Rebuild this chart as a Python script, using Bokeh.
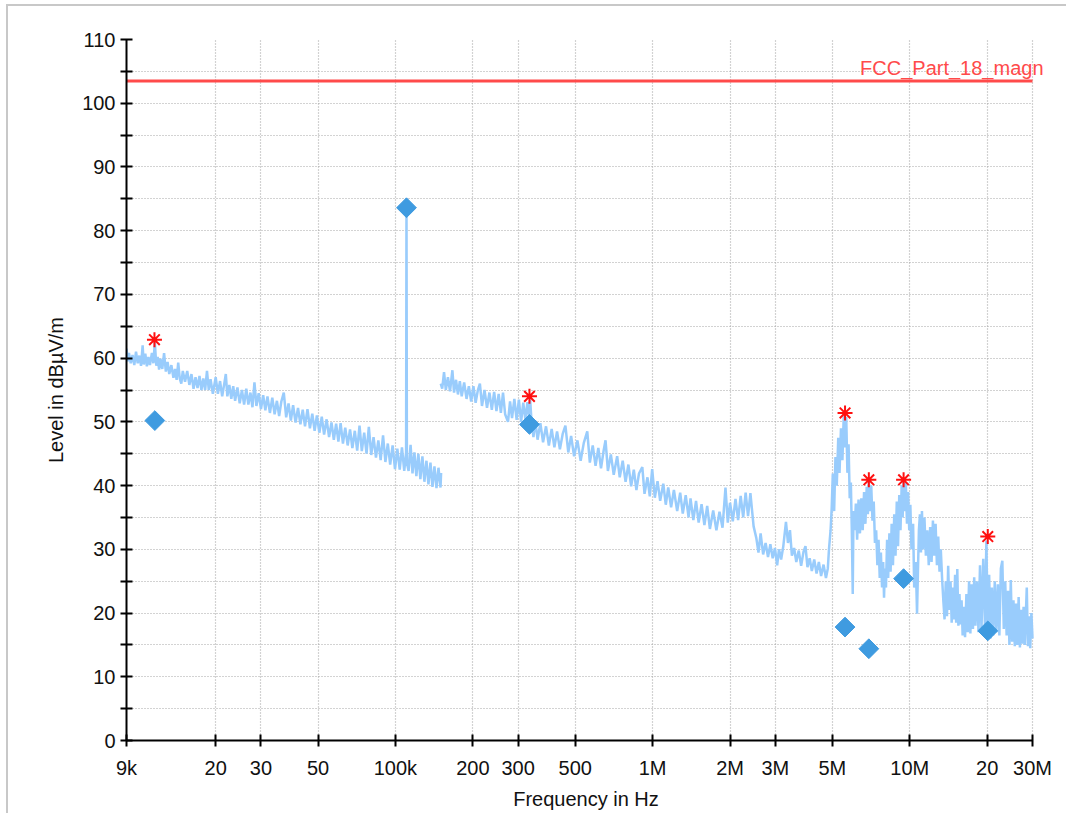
import math
from bokeh.plotting import figure
from bokeh.models import FixedTicker, Label, CustomJSTickFormatter, Range1d
from bokeh.embed import file_html
from bokeh.resources import INLINE

# ---------------- data ----------------
# x tick positions (Hz) and their labels
x_ticks = [9e3, 2e4, 3e4, 5e4, 1e5, 2e5, 3e5, 5e5, 1e6, 2e6, 3e6, 5e6, 1e7, 2e7, 3e7]
x_tick_labels = ["9k", "20", "30", "50", "100k", "200", "300", "500", "1M", "2M", "3M", "5M", "10M", "20", "30M"]
y_ticks = [0, 10, 20, 30, 40, 50, 60, 70, 80, 90, 100, 110]
y_minor_ticks = [5, 15, 25, 35, 45, 55, 65, 75, 85, 95, 105]

# limit line
limit_name = "FCC_Part_18_magn"
limit_f = [9e3, 3e7]
limit_level = [103.5, 103.5]

# spectrum trace, band 9 kHz - 150 kHz (frequency in kHz, level dBuV/m)
trace_a_khz = [
    9.0, 9.1, 9.2, 9.35, 9.5, 9.65, 9.8, 9.95, 10.1, 10.25,
    10.4, 10.5, 10.65, 10.8, 10.95, 11.1, 11.3, 11.45, 11.6, 11.75,
    11.9, 12.05, 12.2, 12.4, 12.6, 12.8, 13.0, 13.2, 13.45, 13.7,
    13.9, 14.1, 14.3, 14.5, 14.7, 14.9, 15.2, 15.5, 15.8, 16.1,
    16.4, 16.7, 17.0, 17.3, 17.6, 17.9, 18.2, 18.5, 18.8, 19.1,
    19.5, 20.0, 20.4, 20.8, 21.2, 21.6, 21.9, 22.2, 22.6, 23.0,
    23.4, 23.8, 24.3, 24.8, 25.3, 25.8, 26.3, 26.8, 27.3, 27.8,
    28.3, 28.8, 29.4, 30.0, 30.6, 31.2, 31.8, 32.5, 33.2, 33.9,
    34.6, 35.3, 36.0, 36.8, 37.6, 38.4, 39.2, 40.0, 40.9, 41.8,
    42.7, 43.6, 44.5, 45.5, 46.5, 47.5, 48.5, 49.5, 50.6, 51.7,
    52.8, 54.0, 55.2, 56.4, 57.6, 58.8, 60.0, 61.2, 62.5, 63.8,
    65.2, 66.6, 68.0, 69.5, 71.0, 72.5, 74.0, 75.6, 77.2, 78.8,
    80.5, 82.2, 84.0, 85.8, 87.6, 89.5, 91.4, 93.4, 95.4, 97.5,
    99.6, 101.7, 103.9, 106.0, 108.2, 110.0, 110.4, 110.8, 112.5, 114.5,
    116.5, 118.5, 120.6, 122.8, 125.0, 127.3, 129.6, 132.0, 134.4, 136.8,
    139.3, 141.8, 144.4, 147.0, 149.7, 150.5,
]
trace_a_level = [
    61.5, 59.5, 60.8, 59.2, 60.5, 58.9, 61.0, 59.2, 60.4, 58.8,
    62.0, 59.0, 60.7, 58.7, 60.2, 58.9, 60.8, 59.2, 62.5, 58.8,
    60.2, 58.2, 59.9, 58.3, 60.8, 57.9, 59.4, 57.5, 58.9, 56.9,
    58.3, 56.6, 59.3, 56.8, 56.0, 58.0, 56.3, 58.0, 55.8, 57.5,
    55.2, 57.0, 55.3, 57.2, 55.0, 56.8, 55.0, 58.0, 55.0, 56.7,
    54.4, 57.0, 54.4, 56.4, 54.0, 56.0, 57.5, 54.0, 55.8, 53.6,
    55.6, 53.3, 55.4, 52.9, 55.0, 52.7, 55.2, 52.7, 54.6, 52.3,
    56.2, 52.5, 54.5, 52.0, 54.2, 51.8, 54.0, 51.4, 53.8, 51.2,
    53.3, 50.9, 53.2, 54.6, 50.7, 52.9, 50.2, 52.6, 49.9, 52.2,
    49.6, 51.9, 49.3, 52.0, 49.0, 51.3, 48.6, 51.0, 48.3, 50.8,
    48.0, 50.4, 47.6, 49.9, 47.2, 49.7, 46.9, 49.8, 46.6, 49.1,
    46.3, 48.8, 45.9, 48.6, 45.5, 49.4, 45.4, 48.3, 45.0, 49.2,
    44.8, 47.6, 44.4, 47.1, 44.0, 47.9, 43.7, 46.6, 43.3, 46.3,
    42.6, 45.8, 42.5, 46.0, 42.3, 45.2, 84.0, 43.6, 42.3, 46.4,
    41.9, 45.2, 41.5, 45.0, 41.0, 44.6, 40.6, 43.9, 40.2, 43.6,
    39.8, 43.0, 39.6, 42.8, 39.7, 42.0,
]

# spectrum trace, band 150 kHz - 30 MHz, lower part (kHz)
trace_b_khz = [
    150, 152, 154.5, 157, 160, 163, 166.5, 169, 172, 175,
    178, 181, 185, 189, 193, 197, 201, 205, 209, 213,
    217, 222, 227, 232, 237, 242, 247, 252, 257, 262,
    267, 274, 279, 284, 290, 296, 302, 308, 314, 320,
    326, 332, 334, 338, 344, 350, 357, 366, 375, 385,
    395, 405, 415, 425, 436, 447, 458, 470, 482, 495,
    510, 525, 540, 557, 570, 585, 600, 615, 630, 645,
    656, 670, 688, 706, 728, 745, 765, 785, 805, 825,
    845, 865, 885, 912, 930, 955, 975, 996, 1020, 1045,
    1070, 1100, 1125, 1150, 1180, 1210, 1246, 1280, 1310, 1345,
    1380, 1404, 1440, 1475, 1510, 1550, 1590, 1630, 1670, 1720,
    1770, 1820, 1870, 1920, 1960, 2000, 2050, 2100, 2150, 2200,
    2250, 2300, 2350, 2400, 2470,
]
trace_b_level = [
    56.0, 55.2, 57.8, 55.0, 57.0, 54.8, 58.1, 54.6, 56.6, 54.3,
    56.4, 54.0, 56.2, 53.6, 55.6, 53.2, 55.6, 53.0, 54.9, 56.0,
    52.5, 55.0, 52.2, 54.6, 51.9, 54.7, 51.7, 54.4, 51.4, 54.6,
    51.2, 50.0, 53.2, 50.6, 53.6, 50.3, 53.5, 50.0, 53.0, 50.4,
    53.1, 50.0, 53.5, 50.2, 47.6, 50.2, 47.2, 49.8, 46.8, 49.3,
    46.3, 48.9, 46.0, 48.5, 45.7, 48.1, 49.4, 45.2, 47.8, 44.6,
    47.1, 43.9, 46.7, 48.5, 43.6, 46.3, 43.1, 45.9, 42.7, 45.5,
    47.1, 42.3, 44.9, 41.7, 44.6, 41.3, 43.9, 40.6, 43.3, 39.9,
    42.5, 39.3, 41.9, 42.9, 38.7, 41.3, 38.3, 42.6, 38.1, 40.7,
    37.6, 40.3, 37.0, 39.7, 36.6, 39.3, 36.0, 38.9, 35.6, 38.5,
    35.0, 38.0, 34.6, 37.6, 34.2, 37.1, 33.8, 36.8, 33.2, 36.1,
    33.0, 35.9, 33.4, 39.7, 34.2, 37.3, 34.4, 37.9, 34.6, 38.4,
    35.0, 38.9, 35.2, 38.8, 33.6,
]

# spectrum trace, band 150 kHz - 30 MHz, upper part (MHz)
trace_c_mhz = [
    2.53, 2.58, 2.63, 2.69, 2.75, 2.81, 2.87, 2.93, 2.99, 3.05,
    3.10, 3.16, 3.22, 3.30, 3.36, 3.42, 3.48, 3.55, 3.62, 3.70,
    3.78, 3.86, 3.93, 4.00, 4.08, 4.16, 4.25, 4.34, 4.43, 4.52,
    4.62, 4.72, 4.80, 4.85, 4.92, 4.97, 5.02, 5.08, 5.14, 5.20,
    5.27, 5.33, 5.40, 5.47, 5.54, 5.60, 5.66, 5.72, 5.78, 5.84,
    5.90, 5.95, 6.00, 6.04, 6.10, 6.17, 6.24, 6.32, 6.40, 6.48,
    6.56, 6.64, 6.72, 6.80, 6.87, 6.93, 7.00, 7.08, 7.16, 7.24,
    7.32, 7.40, 7.48, 7.56, 7.64, 7.72, 7.80, 7.88, 7.94, 8.00,
    8.08, 8.16, 8.24, 8.33, 8.42, 8.50, 8.60, 8.70, 8.80, 8.90,
    9.00, 9.10, 9.20, 9.30, 9.38, 9.45, 9.55, 9.65, 9.75, 9.85,
    9.95, 10.05, 10.15, 10.30, 10.40, 10.55, 10.67, 10.75, 10.85, 10.95,
    11.05, 11.15, 11.25, 11.40, 11.55, 11.70, 11.85, 12.00, 12.15, 12.30,
    12.45, 12.60, 12.75, 12.90, 13.05, 13.20, 13.35, 13.50, 13.65, 13.80,
    13.95, 14.10, 14.25, 14.40, 14.55, 14.70, 14.85, 15.00, 15.15, 15.30,
    15.45, 15.60, 15.75, 15.90, 16.05, 16.20, 16.40, 16.60, 16.80, 17.00,
    17.20, 17.40, 17.60, 17.80, 18.00, 18.25, 18.50, 18.75, 19.00, 19.30,
    19.60, 19.85, 20.10, 20.35, 20.60, 20.85, 21.10, 21.40, 21.70, 22.00,
    22.30, 22.60, 22.90, 23.20, 23.50, 23.80, 24.10, 24.40, 24.70, 25.00,
    25.30, 25.60, 25.90, 26.20, 26.50, 26.80, 27.10, 27.40, 27.70, 28.00,
    28.50, 28.80, 29.10, 29.40, 29.70, 30.00,
]
trace_c_level = [
    31.8, 29.5, 32.5, 29.2, 31.0, 28.8, 30.8, 28.6, 30.2, 27.5,
    30.0, 28.4, 30.4, 34.3, 31.0, 33.0, 29.0, 30.2, 28.0, 29.8,
    27.4, 29.6, 30.5, 27.2, 28.6, 26.6, 28.4, 26.2, 28.0, 25.8,
    27.6, 25.5, 27.0, 30.0, 33.0, 36.5, 41.9, 36.0, 44.5, 40.0,
    47.5, 42.0, 49.0, 44.0, 51.4, 46.0, 50.8, 42.0, 46.5, 38.0,
    40.5, 33.0, 23.0, 36.0, 33.0, 37.2, 31.5, 37.8, 32.5, 38.0,
    33.0, 39.0, 34.0, 39.8, 35.5, 41.0, 36.0, 40.0, 34.5, 37.5,
    31.0, 33.0, 27.5, 31.5, 25.5, 29.5, 24.0, 28.0, 22.4, 27.0,
    24.0, 31.5, 25.5, 32.5, 26.5, 34.0, 27.5, 35.5, 29.0, 37.5,
    30.5, 38.5, 33.0, 40.0, 35.0, 40.9, 36.0, 40.5, 34.0, 39.0,
    33.0, 37.0, 30.0, 34.0, 24.0, 28.0, 19.9, 26.0, 33.0, 35.5,
    29.5, 36.0, 30.0, 35.0, 29.0, 33.0, 27.5, 33.5, 28.0, 34.5,
    29.0, 34.0, 27.5, 32.0, 26.5, 30.0, 25.5, 22.0, 19.0, 25.0,
    19.5, 27.4, 20.5, 25.0, 18.5, 24.0, 19.0, 26.0, 18.5, 26.9,
    18.0, 23.0, 18.2, 22.0, 16.5, 21.0, 16.2, 23.0, 17.0, 25.0,
    16.8, 24.5, 17.5, 25.6, 18.0, 25.0, 17.0, 27.5, 17.5, 28.5,
    18.0, 31.4, 17.0, 26.0, 16.0, 24.0, 16.5, 25.0, 17.0, 24.5,
    16.5, 27.0, 28.2, 17.5, 25.0, 16.5, 23.5, 15.0, 25.2, 15.5,
    22.0, 14.8, 21.5, 15.0, 22.5, 14.6, 20.5, 15.2, 21.0, 15.0,
    24.0, 14.8, 19.5, 14.5, 20.0, 16.0,
]

# final measurements (diamonds) and peaks (asterisks)
final_f = [11.6e3, 110.4e3, 332e3, 5.6e6, 6.93e6, 9.46e6, 20.1e6]
final_level = [50.2, 83.6, 49.6, 17.8, 14.4, 25.4, 17.2]
peak_f = [11.56e3, 332e3, 5.6e6, 6.93e6, 9.46e6, 20.1e6]
peak_level = [62.9, 54.0, 51.4, 40.9, 40.9, 32.0]

assert len(trace_a_khz) == len(trace_a_level)
assert len(trace_b_khz) == len(trace_b_level)
assert len(trace_c_mhz) == len(trace_c_level)

# ---------------- figure ----------------
FONT = "Liberation Sans"
X_MIN, X_MAX = x_ticks[0], x_ticks[-1]
PX_PER_DECADE = 257.2          # frame 126 .. 1032 px covers 9 kHz .. 30 MHz
EXTRA_PX = 13                  # room on the right so the limit name is not clipped

p = figure(width=1066, height=813, x_axis_type="log",
           y_range=(0, 110),
           output_backend="svg", toolbar_location=None,
           min_border_left=126, min_border_top=39, min_border_bottom=73,
           background_fill_color="white", border_fill_color=None)
p.outline_line_color = None

ygrid = p.ygrid[0]
if "cross_bounds" in ygrid.properties():
    x_end = X_MAX * 10 ** (EXTRA_PX / PX_PER_DECADE)
    p.min_border_right = 34 - EXTRA_PX
    ygrid.cross_bounds = (X_MIN, X_MAX)
    label_dx = 11
else:
    x_end = X_MAX
    p.min_border_right = 34
    label_dx = 0
p.x_range = Range1d(X_MIN, x_end)

# window frame lines (left and top), drawn as page background
p.styles = {
    "background-color": "white",
    "background-image": "linear-gradient(#c8c8c8, #c8c8c8), linear-gradient(#c8c8c8, #c8c8c8)",
    "background-size": "2px 100%, 100% 2px",
    "background-position": "6px 4px, 6px 4px",
    "background-repeat": "no-repeat",
}

# axes
p.xaxis.ticker = FixedTicker(ticks=x_ticks)
p.xaxis.bounds = (X_MIN, X_MAX)
p.xaxis.formatter = CustomJSTickFormatter(
    args=dict(xt=x_ticks, xl=x_tick_labels),
    code="""
    for (let i = 0; i < xt.length; i++) {
        if (Math.abs(xt[i] - tick) <= 1e-6 * xt[i]) { return xl[i]; }
    }
    return '';
    """)
p.yaxis.ticker = FixedTicker(ticks=y_ticks, minor_ticks=y_minor_ticks)

for ax in (p.xaxis[0], p.yaxis[0]):
    ax.axis_line_width = 2
    ax.axis_line_color = "black"
    ax.major_tick_line_width = 2
    ax.major_tick_line_color = "black"
    ax.major_tick_in = 6
    ax.major_tick_out = 6
    ax.major_label_text_font = FONT
    ax.major_label_text_font_size = "20px"
    ax.major_label_text_color = "#111111"
    ax.axis_label_text_font = FONT
    ax.axis_label_text_font_size = "20px"
    ax.axis_label_text_font_style = "normal"
    ax.axis_label_text_color = "#111111"
p.yaxis.minor_tick_line_width = 2
p.yaxis.minor_tick_line_color = "black"
p.yaxis.minor_tick_in = 6
p.yaxis.minor_tick_out = 6
p.xaxis.minor_tick_line_color = None
p.xaxis.major_label_standoff = 10
p.yaxis.major_label_standoff = 5

p.yaxis.axis_label = "Level in dBµV/m"
p.yaxis.axis_label_standoff = 12
p.xaxis.axis_label = "Frequency in Hz"
p.xaxis.axis_label_standoff = 6

# grid (dotted)
GRID = "#a6a6a6"
p.xgrid.ticker = FixedTicker(ticks=x_ticks)
p.grid.grid_line_color = GRID
p.grid.grid_line_dash = "1 2"
p.grid.grid_line_width = 1.2
p.ygrid.minor_grid_line_color = GRID
p.ygrid.minor_grid_line_dash = "1 2"
p.ygrid.minor_grid_line_width = 1.2

# traces
TRACE = "#99ccfc"
p.line([f * 1e3 for f in trace_a_khz], trace_a_level, line_color=TRACE, line_width=2.5)
p.line([f * 1e3 for f in trace_b_khz] + [f * 1e6 for f in trace_c_mhz],
       trace_b_level + trace_c_level, line_color=TRACE, line_width=2.5)

# limit line
p.line(limit_f, limit_level, line_color="#ff4a4a", line_width=3)
p.add_layout(Label(x=limit_f[1], y=limit_level[1], x_offset=label_dx, y_offset=2,
                   text=limit_name, text_align="right", text_baseline="bottom",
                   text_color="#ff4a4a", text_font=FONT, text_font_size="20px"))

# markers
p.scatter(final_f, final_level, marker="square", angle=math.pi / 4, size=14,
          fill_color="#3f9be0", line_color="#3f9be0", line_width=1)
p.scatter(peak_f, peak_level, marker="asterisk", size=15,
          line_color="#ff1010", line_width=2)

open("out.html", "w").write(file_html(p, INLINE))
